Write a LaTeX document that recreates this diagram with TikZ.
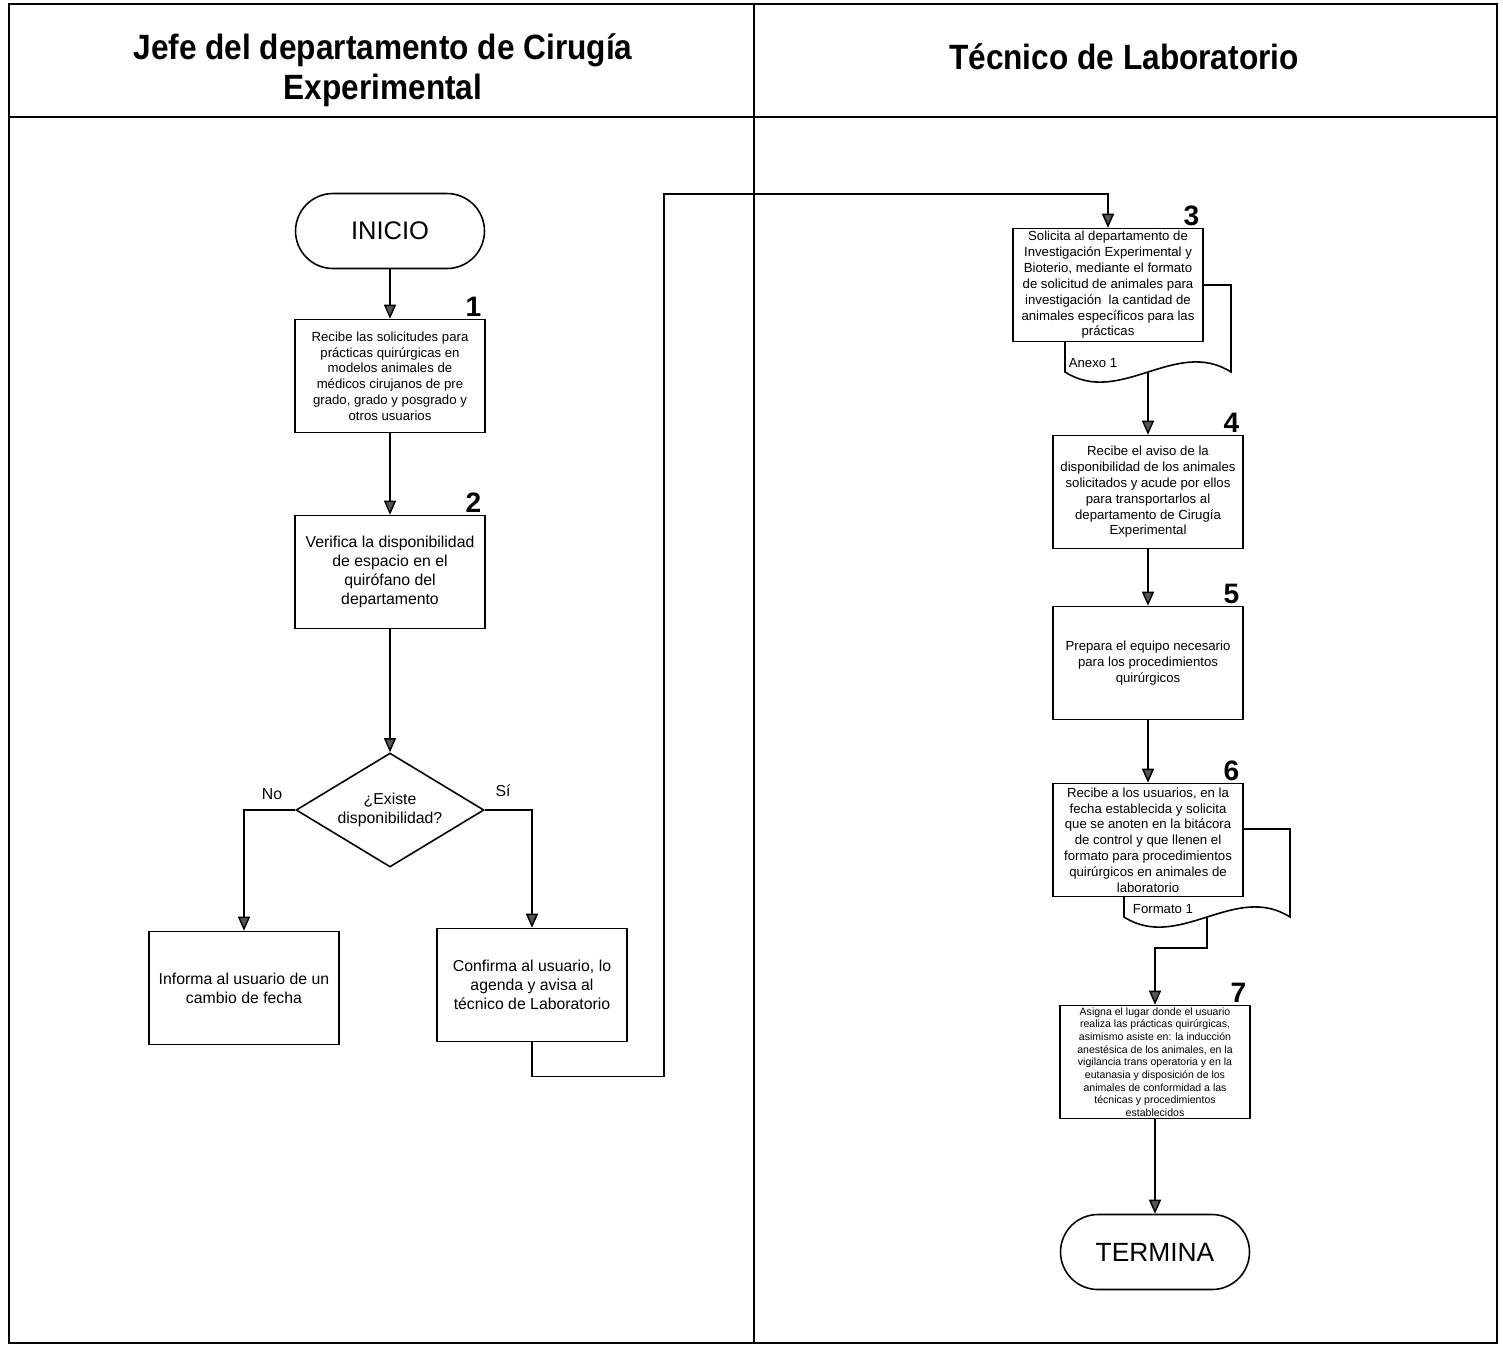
\documentclass[tikz,border=0pt]{standalone}
\usepackage{fontspec}
\setmainfont{Liberation Sans}
\newfontfamily\headfont[FakeStretch=0.9]{Liberation Sans}
\usetikzlibrary{arrows.meta,shapes.geometric}
\definecolor{tipgray}{RGB}{78,88,88}
\tikzset{frame/.style={line width=1.5pt},box/.style={draw,line width=0.9pt,fill=white,align=center,minimum width=3.8cm,minimum height=2.26cm,inner xsep=2pt,inner ysep=1pt,font=\fontsize{7.5}{9}\selectfont},bigbox/.style={box,font=\fontsize{9}{10.8}\selectfont},tinybox/.style={box,inner ysep=0pt,font=\fontsize{6}{7.2}\selectfont},terminal/.style={draw,line width=0.9pt,rounded corners=0.75cm,minimum width=3.78cm,minimum height=1.5cm,font=\fontsize{14.5}{16}\selectfont},decision/.style={draw,diamond,line width=0.9pt,aspect=1.65,minimum width=3.76cm,minimum height=2.28cm,inner sep=0pt,align=center,font=\fontsize{9}{10.8}\selectfont},doc/.style={draw,line width=0.9pt,fill=white},num/.style={font=\fontsize{16}{16}\selectfont\bfseries,anchor=south east,inner sep=1pt},tag/.style={font=\fontsize{9}{10}\selectfont},title/.style={align=center,font=\headfont\fontsize{20}{22.7}\selectfont\bfseries},edge/.style={-{Triangle[length=0.28cm,width=0.24cm,fill=tipgray]},line width=0.8pt}}

\begin{document}
\begin{tikzpicture}[x=0.02cm,y=-0.02cm]
\useasboundingbox (0,0) rectangle (1503,1347);
% carriles
\draw[frame] (9,4) rectangle (1497,1343);
\draw[frame] (9,117) -- (1497,117);
\draw[frame] (754,4) -- (754,1343);
\node[title] (jefe) at (383,70) {Jefe del departamento de Cirugía\\Experimental};
\node[title] (tecnico) at (1124,57) {Técnico de Laboratorio};
% jefe del departamento
\node[terminal] (inicio) at (390,231) {INICIO};
\node[box] (recibe) at (390,376)
{Recibe las solicitudes para\\prácticas quirúrgicas en\\modelos animales de\\médicos cirujanos de pre\\grado, grado y posgrado y\\otros usuarios};
\node[bigbox] (verifica) at (390,572)
{Verifica la disponibilidad\\de espacio en el\\quirófano del\\departamento};
\node[decision] (existe) at (390,810) {¿Existe\\disponibilidad?};
\node[bigbox] (informa) at (244,988) {Informa al usuario de un\\cambio de fecha};
\node[bigbox] (confirma) at (532,985)
{Confirma al usuario, lo\\agenda y avisa al\\técnico de Laboratorio};
\node[tag] (no) at (272,794) {No};
\node[tag] (si) at (503,791) {Sí};
% tecnico de laboratorio
\draw[doc] (1065,285) -- (1231,285) -- (1231,372)
.. controls (1176,337) and (1120,407) .. (1065,372) -- cycle;
\coordinate (anexo) at (1148,372);
\node[box] (solicita) at (1108,285)
{Solicita al departamento de\\Investigación Experimental y\\Bioterio, mediante el formato\\de solicitud de animales para\\investigación\ \ la cantidad de\\animales específicos para las\\prácticas};
\node[font=\fontsize{7.5}{9}\selectfont] (anexotxt) at (1093,363) {Anexo 1};
\node[box] (aviso) at (1148,492)
{Recibe el aviso de la\\disponibilidad de los animales\\solicitados y acude por ellos\\para transportarlos al\\departamento de Cirugía\\Experimental};
\node[box] (prepara) at (1148,663)
{Prepara el equipo necesario\\para los procedimientos\\quirúrgicos};
\draw[doc] (1124,829) -- (1290,829) -- (1290,917)
.. controls (1235,882) and (1179,952) .. (1124,917) -- cycle;
\coordinate (formato) at (1207,917);
\node[box] (usuarios) at (1148,840)
{Recibe a los usuarios, en la\\fecha establecida y solicita\\que se anoten en la bitácora\\de control y que llenen el\\formato para procedimientos\\quirúrgicos en animales de\\laboratorio};
\node[font=\fontsize{7.5}{9}\selectfont] (formatotxt) at (1163,909) {Formato 1};
\node[tinybox] (asigna) at (1155,1062)
{Asigna el lugar donde el usuario\\realiza las prácticas quirúrgicas,\\asimismo asiste en: la inducción\\anestésica de los animales, en la\\vigilancia trans operatoria y en la\\eutanasia y disposición de los\\animales de conformidad a las\\técnicas y procedimientos\\establecidos};
\node[terminal,font=\fontsize{15}{16}\selectfont] (termina) at (1155,1252) {TERMINA};
% numeros
\node[num] at ([xshift=-0.05cm]recibe.north east) {1};
\node[num] at ([xshift=-0.05cm]verifica.north east) {2};
\node[num] at ([xshift=-0.05cm]solicita.north east) {3};
\node[num] at ([xshift=-0.05cm]aviso.north east) {4};
\node[num] at ([xshift=-0.05cm]prepara.north east) {5};
\node[num] at ([xshift=-0.05cm]usuarios.north east) {6};
\node[num] at ([xshift=-0.05cm]asigna.north east) {7};
% flechas
\coordinate (cruce) at (664,194);
\draw[edge] (inicio)--(recibe);
\draw[edge] (recibe)--(verifica);
\draw[edge] (verifica)--(existe);
\draw[edge] (existe.west)-|(informa.north);
\draw[edge] (existe.east)-|(confirma.north);
\draw[edge] (confirma.south)--++(0,34)-|(cruce)-|(solicita.north);
\draw[edge] (anexo)--(aviso);
\draw[edge] (aviso)--(prepara);
\draw[edge] (prepara)--(usuarios);
\draw[edge] (formato)--++(0,31)-|(asigna.north);
\draw[edge] (asigna)--(termina);
\end{tikzpicture}
\end{document}
